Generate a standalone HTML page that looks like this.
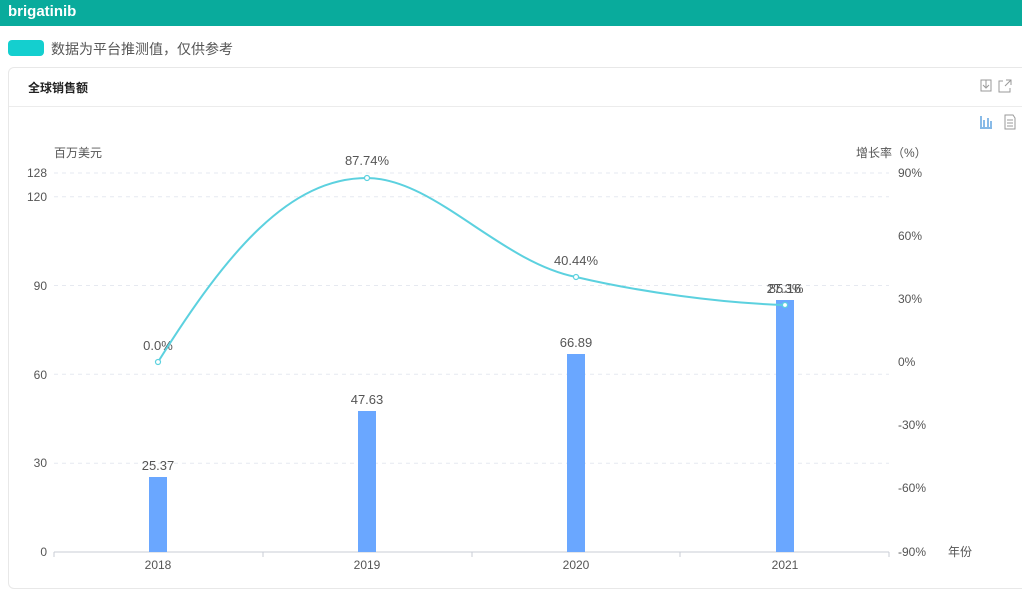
<!DOCTYPE html>
<html><head><meta charset="utf-8"><style>
body{margin:0;width:1022px;height:573px;overflow:hidden;background:#fff;font-family:"Liberation Sans","Noto Sans CJK SC",sans-serif;position:relative}
.hd{position:absolute;left:0;top:0;width:1022px;height:26px;background:#09ab9c;color:#fff;font-weight:bold;font-size:15px;line-height:24px;padding-left:8px;box-sizing:border-box}
.badge{position:absolute;left:8px;top:40px;width:36px;height:16px;border-radius:4px;background:#14cfcf}
.note{position:absolute;left:51px;top:39px;font-size:14px;color:#555}
.card{position:absolute;left:8px;top:67px;width:1030px;height:520px;border:1px solid #e8e8e8;border-radius:6px}
.title{position:absolute;left:28px;top:79px;font-size:12px;font-weight:bold;color:#222}
.div{position:absolute;left:9px;top:106px;width:1013px;height:1px;background:#ececec}
</style></head><body>
<div class="hd">brigatinib</div>
<div class="badge"></div><div class="note">数据为平台推测值，仅供参考</div>
<div class="card"></div>
<div class="title">全球销售额</div>
<div class="div"></div>
<svg width="1022" height="573" style="position:absolute;left:0;top:0" font-family="Liberation Sans, Noto Sans CJK SC, sans-serif">
<g fill="none" stroke="#999" stroke-width="1">
<rect x="981" y="80" width="10" height="11"/><path d="M986 80v7M983 85l3 3 3-3"/>
<path d="M1003 81h-4v11h11v-4M1006 80h5v5M1011 80l-6 6"/>
<path d="M1005 115h8l2 3v11h-10z M1007 120h6M1007 123h6M1007 126h6"/>
</g>
<g fill="none" stroke="#3b8ed8" stroke-width="1.2"><path d="M981 116v11M984 120v7M988 118v9M991 121v6M980 128h12"/></g>
<g stroke="#e6e9f0" stroke-dasharray="4,4">
<line x1="54" x2="889" y1="173" y2="173"/><line x1="54" x2="889" y1="196.7" y2="196.7"/>
<line x1="54" x2="889" y1="285.5" y2="285.5"/><line x1="54" x2="889" y1="374.3" y2="374.3"/>
<line x1="54" x2="889" y1="463.2" y2="463.2"/>
</g>
<g stroke="#c8ccd6"><line x1="54" x2="889" y1="552" y2="552"/>
<path d="M54 552v5M263 552v5M472 552v5M680 552v5M889 552v5"/></g>
<g font-size="12" fill="#555" text-anchor="end">
<text x="47" y="177">128</text><text x="47" y="201">120</text><text x="47" y="290">90</text>
<text x="47" y="379">60</text><text x="47" y="467">30</text><text x="47" y="556">0</text>
</g>
<g font-size="12" fill="#555">
<text x="54" y="157">百万美元</text><text x="856" y="157">增长率（%）</text>
<text x="898" y="177">90%</text><text x="898" y="240">60%</text><text x="898" y="303">30%</text>
<text x="898" y="366">0%</text><text x="898" y="429">-30%</text><text x="898" y="492">-60%</text>
<text x="898" y="556">-90%</text><text x="948" y="556">年份</text>
</g>
<g font-size="12" fill="#555" text-anchor="middle">
<text x="158" y="569">2018</text><text x="367" y="569">2019</text><text x="576" y="569">2020</text><text x="785" y="569">2021</text>
</g>
<g fill="#6aa7ff">
<rect x="149" y="477" width="18" height="75"/><rect x="358" y="411" width="18" height="141"/>
<rect x="567" y="354" width="18" height="198"/><rect x="776" y="300" width="18" height="252"/>
</g>
<g font-size="13" fill="#555" text-anchor="middle">
<text x="158" y="470">25.37</text><text x="367" y="404">47.63</text><text x="576" y="347">66.89</text><text x="785" y="293">85.16</text>
<text x="158" y="350">0.0%</text><text x="367" y="165">87.74%</text><text x="576" y="265">40.44%</text><text x="785" y="293">27.3%</text>
</g>
<path d="M158 362C228 250 290 178 367 178C434 178 500 262 576 277C640 292 720 303 785 305" fill="none" stroke="#5cd1df" stroke-width="2"/>
<g fill="#fff" stroke="#5cd1df" stroke-width="1.2">
<circle cx="158" cy="362" r="2.5"/><circle cx="367" cy="178" r="2.5"/><circle cx="576" cy="277" r="2.5"/><circle cx="785" cy="305" r="2.5"/>
</g>
</svg>
</body></html>
